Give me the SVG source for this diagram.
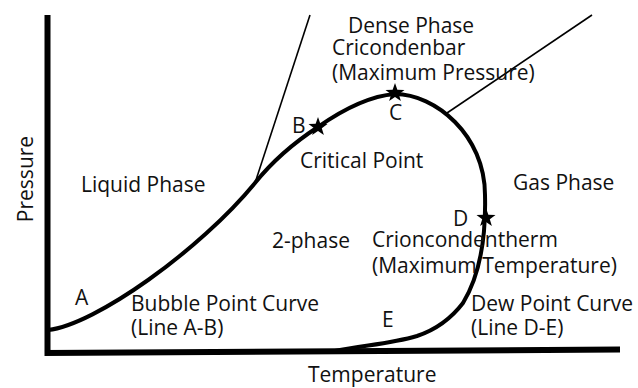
<svg xmlns="http://www.w3.org/2000/svg" xmlns:xlink="http://www.w3.org/1999/xlink" width="638" height="388" viewBox="0 0 638 388">
<style>
text{font-family:"Open Sans","Noto Sans","DejaVu Sans",sans-serif;font-size:21px;fill:#111;}
.axis{fill:none;stroke:#000;stroke-width:6;}
.curve{fill:none;stroke:#000;stroke-width:4;stroke-linejoin:round;stroke-linecap:round;}
.thin{fill:none;stroke:#000;stroke-width:1.6;}
.star{fill:#000;}
</style>
<defs>
<path id="star" d="M0,-10 L2.35,-3.24 L9.51,-3.09 L3.8,1.24 L5.88,8.09 L0,4 L-5.88,8.09 L-3.8,1.24 L-9.51,-3.09 L-2.35,-3.24 Z"/>
</defs>
<rect width="638" height="388" fill="#fff"/>
<g id="axes">
<path class="axis" d="M47.5,15 L47.5,353 M44.5,353 L620,349.5"/>
</g>
<g id="connectors">
<path class="thin" d="M255,183 L310,15"/>
<path class="thin" d="M447,113 L592,15"/>
</g>
<g id="envelope">
<path class="curve" d="M48,330 C95,325 200,250 255,183 C275,158 295,142 318,127 C345,108 370,96 395,94 C435,94 485,135 485,195 C486,235 480,275 463,303 C450,320 435,330 417,336 C390,344 365,345 335,351"/>
</g>
<g id="points">
<use xlink:href="#star" class="star" x="318" y="127"/>
<use xlink:href="#star" class="star" x="395" y="93"/>
<use xlink:href="#star" class="star" x="486" y="218"/>
</g>
<g id="labels">
<text x="348" y="33">Dense Phase</text>
<text x="332" y="55">Cricondenbar</text>
<text x="332" y="80">(Maximum Pressure)</text>
<text x="292" y="133">B</text>
<text x="389" y="120">C</text>
<text x="300" y="168">Critical Point</text>
<text x="513" y="190">Gas Phase</text>
<text x="81" y="192">Liquid Phase</text>
<text x="272" y="248">2-phase</text>
<text x="372" y="247">Crioncondentherm</text>
<text x="372" y="273">(Maximum Temperature)</text>
<text x="453" y="226">D</text>
<text x="75" y="305">A</text>
<text x="131" y="311">Bubble Point Curve</text>
<text x="131" y="335">(Line A-B)</text>
<text x="382" y="327">E</text>
<text x="471" y="311">Dew Point Curve</text>
<text x="471" y="335">(Line D-E)</text>
<text x="308" y="382">Temperature</text>
<text transform="translate(33,179) rotate(-90)" text-anchor="middle">Pressure</text>
</g>
</svg>
